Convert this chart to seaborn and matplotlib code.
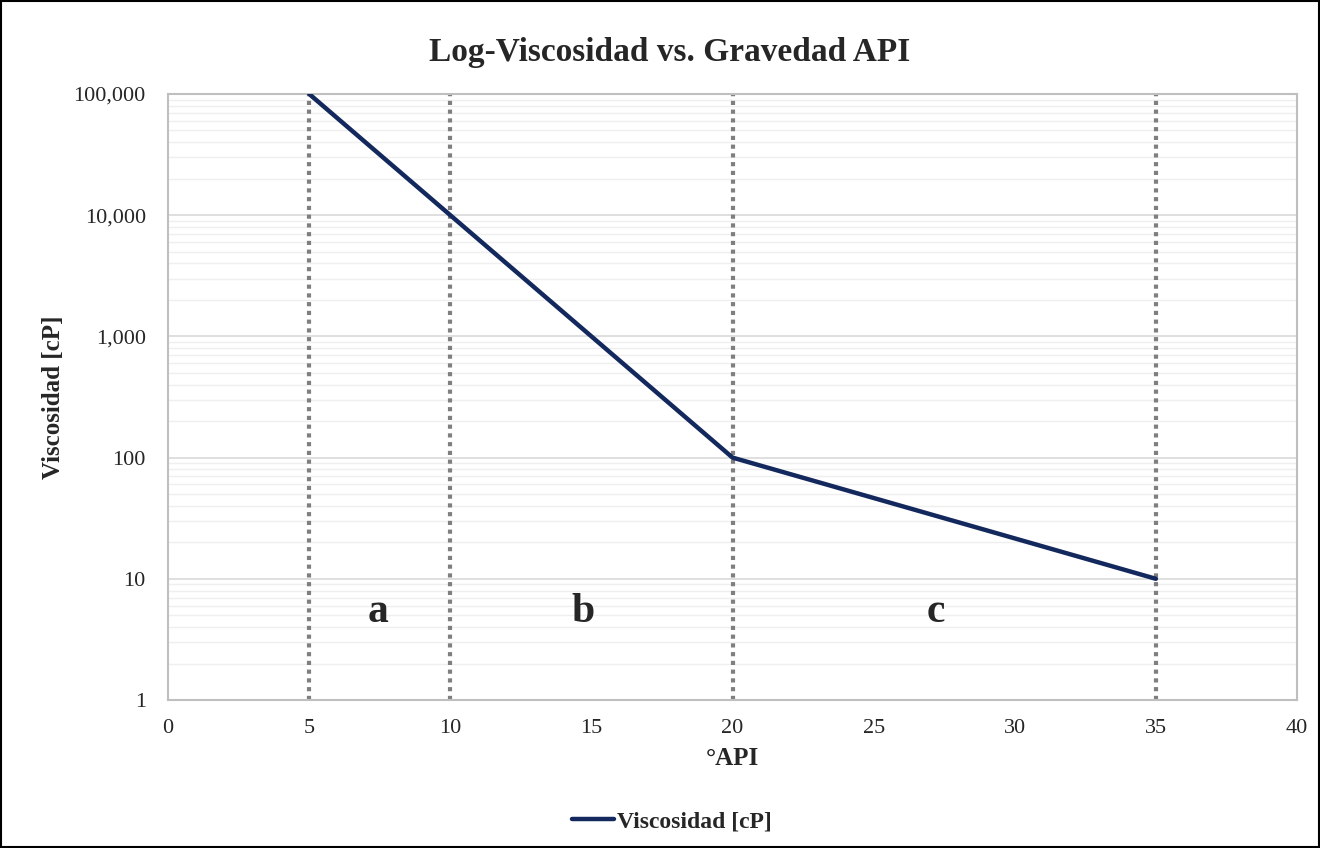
import numpy as np
import pandas as pd
import matplotlib.pyplot as plt
import seaborn as sns
from matplotlib.ticker import FuncFormatter, LogLocator, NullFormatter
from matplotlib.patches import Rectangle

# Data
api = [5, 10, 20, 35]
viscosidad = [100000, 10000, 100, 10]
limites = [5, 10, 20, 35]
zonas = ['a', 'b', 'c']
zona_x = [7.45, 14.7, 27.2]
zona_y = 5.3

df = pd.DataFrame({'API': api, 'Viscosidad [cP]': viscosidad})

sns.set_style('white')
plt.rcParams['font.family'] = ['Liberation Serif', 'DejaVu Serif']

fig = plt.figure(figsize=(13.2, 8.48), dpi=100)
ax = fig.add_axes([0.1273, 0.1745, 0.8553, 0.7147])

# Vertical dotted limits
for x in limites:
    ax.axvline(x, color='#7f7f7f', lw=3, ls=(0, (1, 1.1)), zorder=2)

sns.lineplot(x='API', y='Viscosidad [cP]', data=df, color='#13285c', lw=3.2,
             label='Viscosidad [cP]', ax=ax, zorder=3)

ax.set_yscale('log')
ax.set_ylim(1, 100000)
ax.set_xlim(0, 40)
ax.set_xticks(range(0, 41, 5))
ax.yaxis.set_major_locator(LogLocator(base=10, numticks=10))
ax.yaxis.set_minor_locator(LogLocator(base=10, subs=np.arange(2, 10), numticks=10))
ax.yaxis.set_major_formatter(FuncFormatter(lambda v, p: f'{v:,.0f}'))
ax.yaxis.set_minor_formatter(NullFormatter())

ax.grid(which='major', axis='y', color='#d9d9d9', lw=1.2)
ax.grid(which='minor', axis='y', color='#efefef', lw=1.0)
ax.set_axisbelow(True)
for s in ax.spines.values():
    s.set_color('#bfbfbf')
    s.set_linewidth(1.5)
ax.tick_params(axis='y', which='both', length=0, labelsize=16, pad=16)
ax.tick_params(axis='x', which='both', length=0, labelsize=16, pad=14)

for t, x in zip(zonas, zona_x):
    ax.text(x, zona_y, t, fontsize=30, fontweight='bold', ha='center', va='center')

ax.set_xlabel('°API', fontsize=18, fontweight='bold')
ax.xaxis.set_label_coords(0.5, -0.077)
ax.set_ylabel('Viscosidad [cP]', fontsize=18, fontweight='bold')
ax.yaxis.set_label_coords(-0.091, 0.5)
fig.suptitle('Log-Viscosidad vs. Gravedad API', x=0.507, y=0.938, va='center',
             fontsize=24, fontweight='bold')

ax.legend(loc='center', bbox_to_anchor=(0.446, -0.201), frameon=False,
          prop={'weight': 'bold', 'size': 17}, handlelength=1.8, handletextpad=0.1)

fig.patches.append(Rectangle((0.001, 0.001), 0.998, 0.998, transform=fig.transFigure,
                             fill=False, edgecolor='black', lw=1.5))

plt.savefig('out.png', dpi=100)
